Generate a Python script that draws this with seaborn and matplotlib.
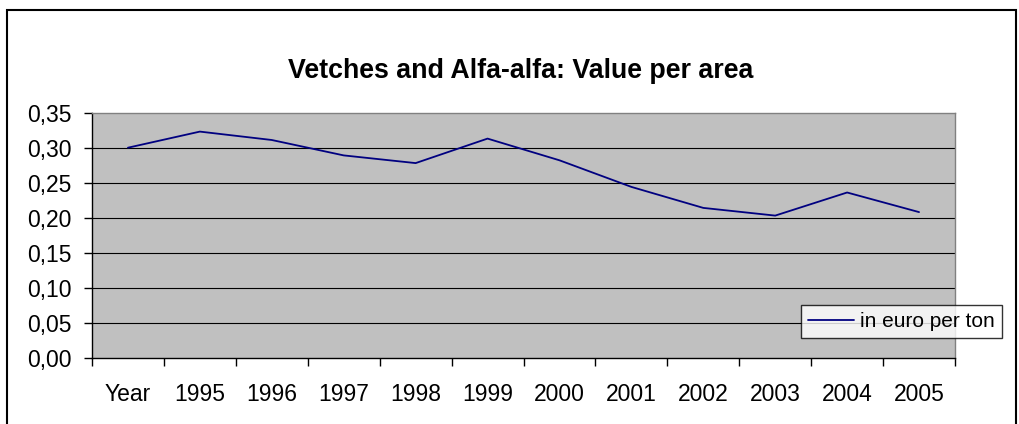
import matplotlib
matplotlib.use("Agg")
import matplotlib.pyplot as plt
import matplotlib.ticker as mticker
import seaborn as sns
import pandas as pd

# valores
categorias = ['Year', '1995', '1996', '1997', '1998', '1999',
              '2000', '2001', '2002', '2003', '2004', '2005']
valores = [0.300, 0.323, 0.311, 0.289, 0.278, 0.313,
           0.282, 0.244, 0.214, 0.203, 0.236, 0.208]
titulo = "Vetches and Alfa-alfa: Value per area"
serie = "in euro per ton"
yticks = [0.00, 0.05, 0.10, 0.15, 0.20, 0.25, 0.30, 0.35]

df = pd.DataFrame({'pos': range(len(categorias)), 'valor': valores})

sns.set_style("white")
plt.rcParams['font.family'] = ['Liberation Sans', 'DejaVu Sans']
plt.rcParams['text.color'] = 'black'
plt.rcParams['xtick.color'] = 'black'
plt.rcParams['ytick.color'] = 'black'

W, H = 1019, 424
fig = plt.figure(figsize=(W / 100, H / 100), dpi=100)
ax = fig.add_axes([92 / W, 1 - 357.7 / H, (955 - 92) / W, (357.7 - 112.7) / H])
ax.set_facecolor('#C0C0C0')

# moldura externa
fig.patches.append(plt.Rectangle((7 / W, -0.05), (1016 - 7) / W, 1.05 - 10 / H,
                                 transform=fig.transFigure, fill=False,
                                 edgecolor='black', linewidth=1.5))

sns.lineplot(data=df, x='pos', y='valor', ax=ax, color='#000080',
             linewidth=1.3, label=serie)

ax.set_xlim(-0.5, len(categorias) - 0.5)
ax.set_ylim(0, 0.35)
ax.set_yticks(yticks)
ax.yaxis.set_major_formatter(mticker.FuncFormatter(lambda v, p: f"{v:.2f}".replace('.', ',')))
for y in yticks[1:-1]:
    ax.axhline(y, color='black', linewidth=0.8, zorder=1)

ax.set_xticks(range(len(categorias)))
ax.set_xticklabels(categorias)
ax.set_xticks([i - 0.5 for i in range(len(categorias) + 1)], minor=True)
ax.tick_params(axis='x', which='major', bottom=True, length=0, pad=18, labelsize=16.5)
ax.tick_params(axis='x', which='minor', bottom=True, length=6, width=1,
               color='black', direction='out')
ax.tick_params(axis='y', left=True, length=6, width=1, color='black',
               direction='out', pad=9, labelsize=16.5)
ax.set_xlabel('')
ax.set_ylabel('')

for lado in ['left', 'bottom']:
    ax.spines[lado].set_color('black')
    ax.spines[lado].set_linewidth(1)
for lado in ['top', 'right']:
    ax.spines[lado].set_color('#808080')
    ax.spines[lado].set_linewidth(1)

fig.text(0.511, 1 - 71 / H, titulo, ha='center', va='center',
         fontsize=19.3, fontweight='bold')

leg = ax.legend(loc='center left', bbox_to_anchor=(801 / W, 1 - 321.5 / H),
                bbox_transform=fig.transFigure, frameon=True, fancybox=False,
                fontsize=15, handlelength=2.2, handletextpad=0.3,
                borderpad=0.35, borderaxespad=0)
leg.get_frame().set_edgecolor('black')
leg.get_frame().set_linewidth(1)
leg.get_frame().set_facecolor('white')

fig.savefig("out.png", dpi=100)
